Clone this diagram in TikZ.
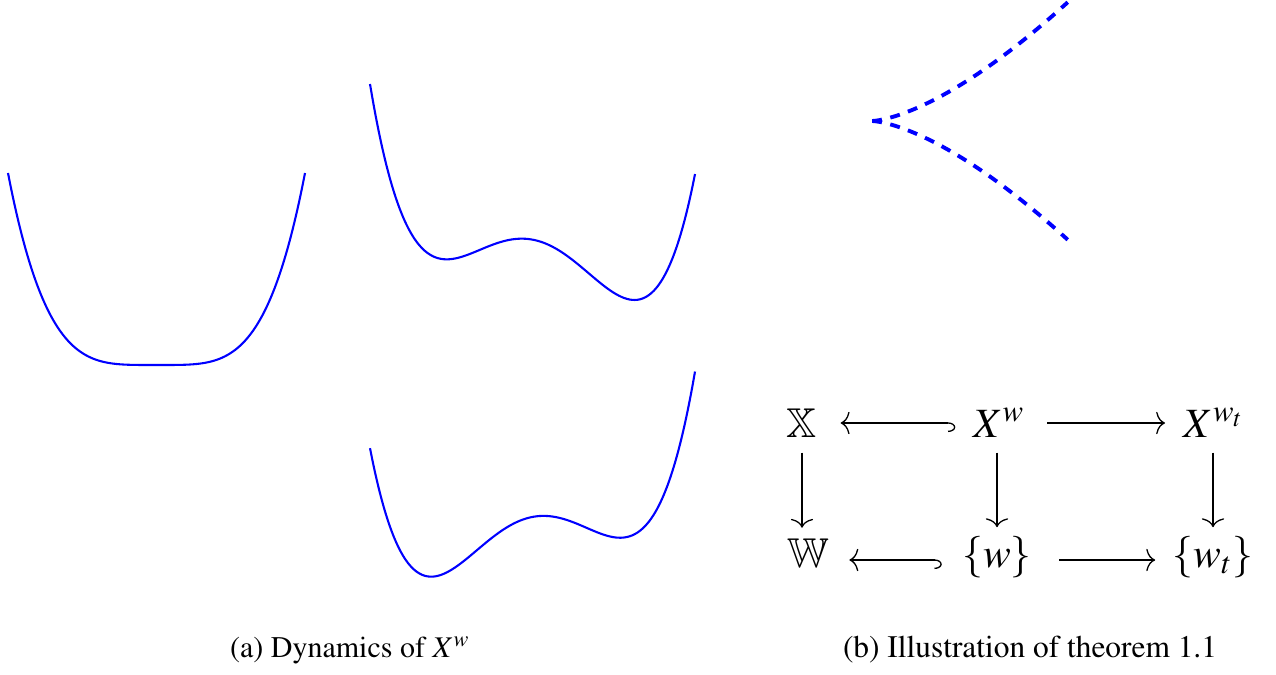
\documentclass[tikz,border=0pt]{standalone}
\usepackage[T1]{fontenc}
\usepackage{mathptmx}
\usepackage{amsmath,amssymb}
\usepackage{tikz}
\usetikzlibrary{positioning,arrows.meta}
\definecolor{curve}{HTML}{0000FF}
\tikzset{
  declare function={quart(\u,\c)=\u*\u*\u*\u-2*\u*\u+\c*\u;},
  potential/.style={draw=curve,line width=0.75pt,smooth,samples=120},
  cusp/.style={draw=curve,line width=1.4pt,dash pattern=on 3.6pt off 3.1pt,smooth,samples=60},
  obj/.style={inner sep=0pt,anchor=base,font=\fontsize{15}{18}\selectfont},
  map/.style={-{To[length=3.2pt,width=8pt]},line width=0.47pt},
  hookmap/.style={{Hooks[right,length=2.6pt,width=6.5pt]}-{To[length=3.2pt,width=8pt]},line width=0.47pt}
}

\begin{document}
\begin{tikzpicture}[x=0.36pt,y=-0.36pt]
\useasboundingbox (0,0) rectangle (1276,675);
% (a) potentials
\draw[potential,domain=8:305] plot (\x,{365-192*((\x-156.5)/148.5)^4});
\draw[potential,domain=370:695] plot (\x,{240-39*quart((\x-534.3)/94.5,-0.522)});
\draw[potential,domain=370:695] plot (\x,{517.1-39.5*quart((\x-531.6)/95,0.494)});
% (b) bifurcation set
\draw[cusp,domain=0:1] plot ({872+196*\x*\x},{121-119*\x*\x*\x});
\draw[cusp,domain=0:1] plot ({872+196*\x*\x},{121+119*\x*\x*\x});
% commutative square
\coordinate (top) at (0,423);
\coordinate (bot) at (0,560);
\node[obj] (XX) at (802,437) {$\mathbb{X}$};
\node[obj] (Xw) at (999,437) {$X^{w}$};
\node[obj] (Xwt) at (1214,437) {$X^{w_t}$};
\node[obj] (WW) at (808,567) {$\mathbb{W}$};
\node[obj] (w) at (997,567) {$\{w\}$};
\node[obj] (wt) at (1213,567) {$\{w_t\}$};
\draw[hookmap,shorten <=6.3pt,shorten >=8.3pt] (Xw.west |- top) -- (XX.east |- top);
\draw[map,shorten <=8pt,shorten >=6.5pt] (Xw.east |- top) -- (Xwt.west |- top);
\draw[hookmap,shorten <=7.2pt,shorten >=7.2pt] (w.west |- bot) -- (WW.east |- bot);
\draw[map,shorten <=9.7pt,shorten >=6.1pt] (w.east |- bot) -- (wt.west |- bot);
\draw[map,shorten <=5.4pt,shorten >=3.6pt] (XX.south) -- (WW.north -| XX.south);
\draw[map,shorten <=5.4pt,shorten >=3pt] (Xw.south -| w) -- (w.north);
\draw[map,shorten <=5.4pt,shorten >=3pt] (wt |- Xwt.south) -- (wt.north);
% captions
\node[anchor=base,font=\fontsize{10.8}{13}\selectfont] (capa) at (350,657) {(a) Dynamics of $X^w$};
\node[anchor=base,font=\fontsize{11.3}{13}\selectfont] (capb) at (1030,657) {(b) Illustration of theorem 1.1};
\end{tikzpicture}
\end{document}
